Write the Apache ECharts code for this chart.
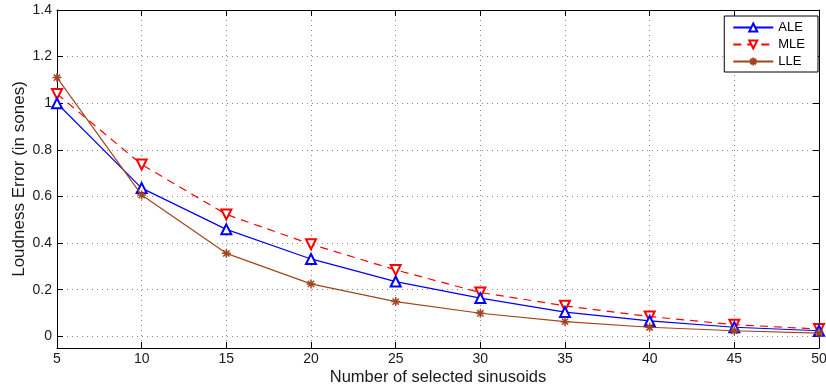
<!DOCTYPE html>
<html>
<head>
<meta charset="utf-8">
<script src="https://cdn.jsdelivr.net/npm/echarts@6/dist/echarts.min.js"></script>
<style>html,body{margin:0;padding:0;background:#fff}#c{width:826px;height:390px}</style>
</head>
<body>
<div id="c"></div>
<script>
const xValues = [5, 10, 15, 20, 25, 30, 35, 40, 45, 50];
const aleValues = [1.0, 0.636, 0.459, 0.332, 0.235, 0.164, 0.104, 0.066, 0.039, 0.024];
const mleValues = [1.04, 0.737, 0.523, 0.395, 0.285, 0.188, 0.131, 0.085, 0.050, 0.031];
const lleValues = [1.11, 0.606, 0.356, 0.225, 0.149, 0.099, 0.063, 0.039, 0.024, 0.014];
const yTicks = [0, 0.2, 0.4, 0.6, 0.8, 1, 1.2, 1.4];
const seriesNames = ['ALE', 'MLE', 'LLE'];

const pair = (vals) => xValues.map((x, i) => [x, vals[i]]);
const asterisk = 'path://M0,-5L0,5M-5,0L5,0M-3.5,-3.5L3.5,3.5M-3.5,3.5L3.5,-3.5';
const font = 'Liberation Sans, Arial, Helvetica, sans-serif';
const txt = '#1a1a1a';
const gridLine = { show: true, lineStyle: { color: '#888', type: [1, 4], width: 1 } };

const chart = echarts.init(document.getElementById('c'), null, { renderer: 'canvas' });
chart.setOption({
  animation: false,
  backgroundColor: '#fff',
  textStyle: { fontFamily: font },
  grid: { left: 57, right: 7, top: 10, bottom: 42, containLabel: false, outerBoundsMode: 'none' },
  legend: {
    right: 8, top: 16, orient: 'vertical',
    data: seriesNames,
    backgroundColor: '#fff', borderColor: '#000', borderWidth: 1, borderRadius: 0,
    padding: [5, 13, 4, 8], itemGap: 4, itemWidth: 40, itemHeight: 10,
    textStyle: { fontFamily: font, fontSize: 13, color: '#000' }
  },
  xAxis: [{
    type: 'value', min: 5, max: 50, interval: 5,
    name: 'Number of selected sinusoids', nameLocation: 'middle', nameGap: 21,
    nameMoveOverlap: false,
    nameTextStyle: { fontFamily: font, fontSize: 16.5, color: txt },
    axisLine: { show: true, onZero: false, lineStyle: { color: '#000', width: 1 } },
    axisTick: { show: true, inside: true, length: 6, lineStyle: { color: '#000' } },
    axisLabel: { fontFamily: font, fontSize: 14, color: txt, margin: 4 },
    splitLine: gridLine
  }, {
    type: 'value', min: 5, max: 50, interval: 5, position: 'top',
    axisLine: { show: true, onZero: false, lineStyle: { color: '#000', width: 1 } },
    axisTick: { show: true, inside: true, length: 6, lineStyle: { color: '#000' } },
    axisLabel: { show: false }, splitLine: { show: false }
  }],
  yAxis: [{
    type: 'value', min: -0.05, max: 1.4,
    name: 'Loudness Error (in sones)', nameLocation: 'middle', nameGap: 29,
    nameMoveOverlap: false,
    nameTextStyle: { fontFamily: font, fontSize: 17, color: txt },
    axisLine: { show: true, onZero: false, lineStyle: { color: '#000', width: 1 } },
    axisTick: { show: true, inside: true, length: 6, lineStyle: { color: '#000' }, customValues: yTicks },
    axisLabel: { fontFamily: font, fontSize: 14, color: txt, margin: 5, customValues: yTicks },
    splitLine: gridLine
  }, {
    type: 'value', min: -0.05, max: 1.4, position: 'right',
    axisLine: { show: true, onZero: false, lineStyle: { color: '#000', width: 1 } },
    axisTick: { show: true, inside: true, length: 6, lineStyle: { color: '#000' }, customValues: yTicks },
    axisLabel: { show: false, customValues: yTicks }, splitLine: { show: false }
  }],
  series: [{
    name: seriesNames[0], type: 'line', data: pair(aleValues),
    symbol: 'emptyTriangle', symbolSize: 10,
    lineStyle: { color: '#0000ff', width: 1.2 },
    itemStyle: { color: '#0000ff', borderColor: '#0000ff', borderWidth: 1.3 },
    z: 3
  }, {
    name: seriesNames[1], type: 'line', data: pair(mleValues),
    symbol: 'emptyTriangle', symbolRotate: 180, symbolSize: 10,
    lineStyle: { color: '#ff0000', width: 1.2, type: [8, 6] },
    itemStyle: { color: '#ff0000', borderColor: '#ff0000', borderWidth: 1.3 },
    z: 2
  }, {
    name: seriesNames[2], type: 'line', data: pair(lleValues),
    symbol: asterisk, symbolSize: 9,
    lineStyle: { color: '#a0461e', width: 1.2 },
    itemStyle: { color: '#a0461e', borderColor: '#a0461e', borderWidth: 1.5 },
    z: 4
  }]
});
</script>
</body>
</html>
